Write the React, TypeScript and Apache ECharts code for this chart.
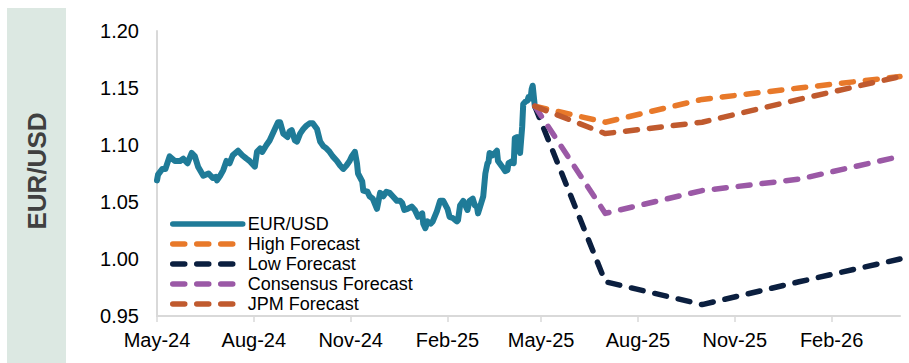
import React, { useEffect, useRef } from "react";
import * as echarts from "echarts";

// EUR/USD spot history
const spotDates = [
  "2024-05-01","2024-05-02","2024-05-06","2024-05-09","2024-05-13","2024-05-18","2024-05-23","2024-05-26","2024-05-30",
  "2024-06-03","2024-06-06","2024-06-09","2024-06-14","2024-06-19","2024-06-23","2024-06-26","2024-06-27","2024-06-30",
  "2024-07-03","2024-07-06","2024-07-09","2024-07-12","2024-07-17","2024-07-21","2024-07-25","2024-07-28",
  "2024-08-02","2024-08-04","2024-08-07","2024-08-09","2024-08-13","2024-08-16","2024-08-21","2024-08-24","2024-08-26","2024-08-29",
  "2024-09-02","2024-09-04","2024-09-06","2024-09-09","2024-09-11","2024-09-14","2024-09-17","2024-09-20","2024-09-23","2024-09-26","2024-09-30",
  "2024-10-03","2024-10-06","2024-10-09","2024-10-12","2024-10-15","2024-10-19","2024-10-22","2024-10-25","2024-10-28","2024-10-31",
  "2024-11-02","2024-11-05","2024-11-07","2024-11-08","2024-11-12","2024-11-13","2024-11-17","2024-11-19","2024-11-22","2024-11-26","2024-11-29",
  "2024-12-02","2024-12-05","2024-12-08","2024-12-11","2024-12-15","2024-12-18","2024-12-20","2024-12-22","2024-12-25","2024-12-29",
  "2025-01-01","2025-01-04","2025-01-08","2025-01-09","2025-01-11","2025-01-13","2025-01-16","2025-01-18","2025-01-22","2025-01-25","2025-01-28",
  "2025-02-01","2025-02-03","2025-02-06","2025-02-10","2025-02-11","2025-02-13","2025-02-16","2025-02-20","2025-02-22","2025-02-25","2025-02-27",
  "2025-03-01","2025-03-02","2025-03-04","2025-03-07","2025-03-09","2025-03-11","2025-03-12","2025-03-13","2025-03-16","2025-03-20","2025-03-21","2025-03-25","2025-03-28","2025-03-30","2025-03-31",
  "2025-04-04","2025-04-05","2025-04-06","2025-04-08","2025-04-09","2025-04-11","2025-04-13","2025-04-14","2025-04-16","2025-04-18","2025-04-19","2025-04-21","2025-04-22","2025-04-23","2025-04-25",
];
const spotValues = [
  1.069,1.074,1.079,1.079,1.090,1.086,1.086,1.088,1.084,
  1.093,1.090,1.081,1.073,1.075,1.071,1.072,1.069,1.073,
  1.078,1.086,1.084,1.091,1.095,1.091,1.088,1.086,
  1.081,1.094,1.097,1.094,1.100,1.104,1.114,1.120,1.120,1.110,
  1.107,1.112,1.113,1.104,1.103,1.110,1.114,1.117,1.119,1.119,1.114,
  1.103,1.099,1.097,1.094,1.090,1.086,1.082,1.079,1.082,1.086,
  1.090,1.094,1.084,1.075,1.068,1.060,1.059,1.055,1.053,1.044,1.058,
  1.055,1.059,1.058,1.055,1.051,1.051,1.049,1.043,1.044,1.046,
  1.043,1.037,1.040,1.031,1.027,1.033,1.031,1.033,1.042,1.051,1.051,
  1.044,1.037,1.036,1.033,1.034,1.047,1.051,1.043,1.051,1.053,1.047,
  1.046,1.040,1.046,1.055,1.075,1.084,1.085,1.093,1.091,1.095,1.086,1.081,1.077,1.078,1.084,
  1.086,1.084,1.106,1.107,1.099,1.093,1.116,1.136,1.138,1.139,1.142,1.141,1.149,1.152,1.134,
];

// Forecast paths
const forecastDates = ["2025-04-25", "2025-07-01", "2025-10-01", "2026-01-01", "2026-04-07"];
const highForecast = [1.134, 1.12, 1.14, 1.15, 1.16];
const lowForecast = [1.134, 0.98, 0.96, 0.98, 1.0];
const consensusForecast = [1.134, 1.04, 1.06, 1.07, 1.09];
const jpmForecast = [1.134, 1.11, 1.12, 1.14, 1.16];

// Axis ticks
const tickDates = ["2024-05-01","2024-08-01","2024-11-01","2025-02-01","2025-05-01","2025-08-01","2025-11-01","2026-02-01"];
const tickLabels = ["May-24","Aug-24","Nov-24","Feb-25","May-25","Aug-25","Nov-25","Feb-26"];
const axisStart = "2024-05-01";
const axisEnd = "2026-04-07";

const FONT = "'Liberation Sans', Arial, sans-serif";

function toTs(s: string): number {
  const [y, m, d] = s.split("-").map(Number);
  return Date.UTC(y, m - 1, d);
}

export default function App() {
  const ref = useRef<HTMLDivElement>(null);

  useEffect(() => {
    if (!ref.current) return;
    const chart = echarts.init(ref.current, undefined, { renderer: "svg" });
    const tickTs = tickDates.map(toTs);
    const pair = (dates: string[], vals: number[]) => dates.map((d, i) => [toTs(d), vals[i]]);
    const dashed = (name: string, color: string, vals: number[]) => ({
      name,
      type: "line",
      data: pair(forecastDates, vals),
      showSymbol: false,
      symbol: "none",
      lineStyle: { color, width: 5.5, type: [12, 12], cap: "round", join: "round" },
      itemStyle: { color },
    });

    chart.setOption({
      animation: false,
      backgroundColor: "#ffffff",
      grid: { left: 157, right: 9, top: 31, bottom: 47, containLabel: false },
      graphic: [
        {
          type: "rect",
          shape: { x: 7, y: 8, width: 59, height: 360 },
          style: { fill: "#dce8e2" },
          z: -1,
        },
        {
          type: "text",
          x: 37,
          y: 171,
          rotation: Math.PI / 2,
          style: {
            text: "EUR/USD",
            font: `bold 26px ${FONT}`,
            fill: "#404040",
            align: "center",
            verticalAlign: "middle",
            textAlign: "center",
            textVerticalAlign: "middle",
          },
        },
      ],
      legend: {
        orient: "vertical",
        left: 165,
        top: 209,
        itemWidth: 70,
        itemHeight: 14,
        itemGap: 0,
        itemStyle: { opacity: 0 },
        lineStyle: { width: 5.5, opacity: 1, cap: "round" },
        textStyle: { fontFamily: FONT, fontSize: 18, color: "#000", lineHeight: 20 },
        data: ["EUR/USD", "High Forecast", "Low Forecast", "Consensus Forecast", "JPM Forecast"],
      },
      xAxis: {
        type: "value",
        min: toTs(axisStart),
        max: toTs(axisEnd),
        splitLine: { show: false },
        axisLine: { show: true, lineStyle: { color: "#d9d9d9", width: 2 } },
        axisTick: { show: true, length: 6, customValues: tickTs, lineStyle: { color: "#d9d9d9", width: 1.5 } },
        axisLabel: {
          customValues: tickTs,
          showMinLabel: true,
          showMaxLabel: true,
          hideOverlap: false,
          margin: 14,
          fontFamily: FONT,
          fontSize: 20,
          color: "#000",
          formatter: (v: number) => {
            const i = tickTs.indexOf(v);
            return i >= 0 ? tickLabels[i] : "";
          },
        },
      },
      yAxis: {
        type: "value",
        min: 0.95,
        max: 1.2,
        interval: 0.05,
        splitLine: { show: false },
        axisLine: { show: true, lineStyle: { color: "#d9d9d9", width: 2 } },
        axisTick: { show: false },
        axisLabel: {
          margin: 18,
          fontFamily: FONT,
          fontSize: 20,
          color: "#000",
          formatter: (v: number) => v.toFixed(2),
        },
      },
      series: [
        {
          name: "EUR/USD",
          type: "line",
          data: pair(spotDates, spotValues),
          showSymbol: false,
          symbol: "none",
          lineStyle: { color: "#1f7b98", width: 6, cap: "round", join: "round" },
          itemStyle: { color: "#1f7b98" },
          z: 3,
        },
        dashed("High Forecast", "#e8792a", highForecast),
        dashed("Low Forecast", "#0b1f3f", lowForecast),
        dashed("Consensus Forecast", "#9b59a6", consensusForecast),
        dashed("JPM Forecast", "#c05a2e", jpmForecast),
      ],
    });
    return () => chart.dispose();
  }, []);

  return (
    <div
      ref={ref}
      style={{ position: "fixed", left: 0, top: 0, width: 909, height: 363, background: "#fff" }}
    />
  );
}
